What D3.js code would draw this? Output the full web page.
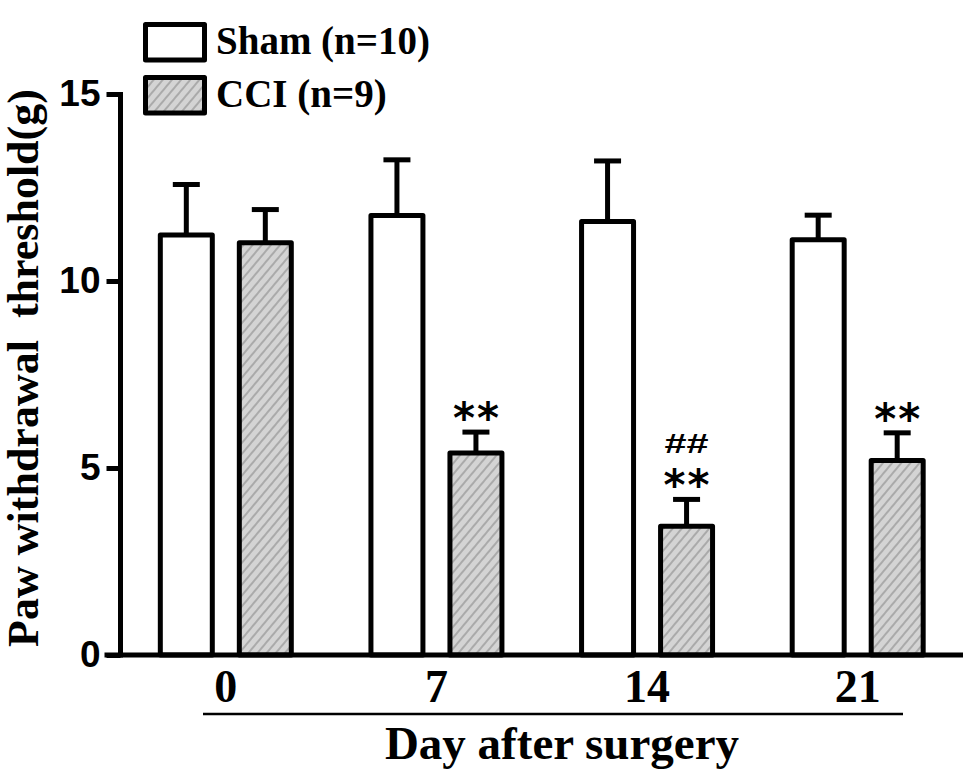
<!DOCTYPE html>
<html>
<head>
<meta charset="utf-8">
<script src="https://cdn.jsdelivr.net/npm/d3@7"></script>
<style>
  html, body { margin: 0; padding: 0; background: #fff; }
  svg { display: block; }
</style>
</head>
<body>
<svg id="chart" width="968" height="774"></svg>
<script>
// ---- data ----
const days = ["0", "7", "14", "21"];
const seriesNames = ["Sham", "CCI"];
const legendLabels = ["Sham (n=10)", "CCI (n=9)"];
const shamMean = [11.23, 11.75, 11.59, 11.10];
const shamErr  = [1.35, 1.49, 1.62, 0.66];
const cciMean  = [11.02, 5.40, 3.44, 5.20];
const cciErr   = [0.89, 0.56, 0.72, 0.74];
const cciStars = ["", "**", "**", "**"];
const cciHash  = ["", "", "##", ""];
const yTicks = [0, 5, 10, 15];
const xTitle = "Day after surgery";
const yTitle = "Paw withdrawal  threshold(g)";

// ---- layout ----
const svg = d3.select("#chart");
const axisX = 120.5, axisY = 655, rightEnd = 963, topY = 94;
const serif = "'Liberation Serif', 'Times New Roman', serif";
const sans = "'Liberation Sans', Arial, sans-serif";

const y = d3.scaleLinear().domain([0, 15]).range([axisY, topY]);
const x0 = d3.scaleBand().domain(days).range([axisX, rightEnd]).padding(0);
const x1 = d3.scaleBand().domain(seriesNames).range([0, x0.bandwidth()])
  .paddingInner(0.342).paddingOuter(0.504);

// hatch pattern
const defs = svg.append("defs");
const pat = defs.append("pattern")
  .attr("id", "hatch").attr("patternUnits", "userSpaceOnUse")
  .attr("width", 7).attr("height", 7)
  .attr("patternTransform", "rotate(40)");
pat.append("rect").attr("width", 7).attr("height", 7).attr("fill", "#d4d4d4");
pat.append("line").attr("x1", 1).attr("y1", 0).attr("x2", 1).attr("y2", 7)
  .attr("stroke", "#9c9c9c").attr("stroke-width", 1.5);

const data = [];
days.forEach((d, i) => {
  data.push({day: d, s: "Sham", mean: shamMean[i], err: shamErr[i], fill: "#fff", stars: "", hash: ""});
  data.push({day: d, s: "CCI", mean: cciMean[i], err: cciErr[i], fill: "url(#hatch)", stars: cciStars[i], hash: cciHash[i]});
});
const cx = d => x0(d.day) + x1(d.s) + x1.bandwidth() / 2;

const sw = 5;
const g = svg.append("g");

// error bars
g.selectAll("line.err").data(data).join("line")
  .attr("x1", cx).attr("x2", cx)
  .attr("y1", d => y(d.mean)).attr("y2", d => y(d.mean + d.err))
  .attr("stroke", "#000").attr("stroke-width", sw);
g.selectAll("line.cap").data(data).join("line")
  .attr("x1", d => cx(d) - 13.5).attr("x2", d => cx(d) + 13.5)
  .attr("y1", d => y(d.mean + d.err)).attr("y2", d => y(d.mean + d.err))
  .attr("stroke", "#000").attr("stroke-width", sw);

// bars
g.selectAll("rect.bar").data(data).join("rect")
  .attr("x", d => x0(d.day) + x1(d.s))
  .attr("width", x1.bandwidth())
  .attr("y", d => y(d.mean))
  .attr("height", d => axisY - y(d.mean))
  .attr("fill", d => d.fill)
  .attr("stroke", "#000").attr("stroke-width", sw)
  .attr("stroke-linejoin", "round");

// significance marks
g.selectAll("text.stars").data(data.filter(d => d.stars)).join("text")
  .attr("x", cx).attr("y", d => y(d.mean + d.err) + 1)
  .attr("text-anchor", "middle")
  .attr("font-family", "'DejaVu Sans', sans-serif").attr("font-weight", "bold").attr("font-size", 42)
  .attr("textLength", 46).attr("lengthAdjust", "spacing")
  .text(d => d.stars);
g.selectAll("text.hash").data(data.filter(d => d.hash)).join("text")
  .attr("x", cx).attr("y", d => y(d.mean + d.err) - 46)
  .attr("text-anchor", "middle")
  .attr("font-family", sans).attr("font-weight", "bold").attr("font-size", 27)
  .attr("textLength", 44).attr("lengthAdjust", "spacingAndGlyphs")
  .text(d => d.hash);

// y axis
const yAxis = d3.axisLeft(y).tickValues(yTicks).tickSize(14).tickSizeOuter(0).tickPadding(6);
const ya = svg.append("g").attr("transform", `translate(${axisX},0)`).call(yAxis);
ya.select(".domain").attr("stroke", "#000").attr("stroke-width", sw)
  .attr("d", `M0,${topY - 2}V${axisY + 2.5}`);
ya.selectAll(".tick line").attr("stroke", "#000").attr("stroke-width", sw);
ya.selectAll(".tick text").attr("font-family", sans).attr("font-weight", "bold")
  .attr("font-size", 37).attr("fill", "#000").attr("dy", "0.3em");

// x axis
const xAxis = d3.axisBottom(x0).tickSize(0).tickPadding(14);
const xa = svg.append("g").attr("transform", `translate(0,${axisY})`).call(xAxis);
xa.select(".domain").attr("stroke", "#000").attr("stroke-width", sw)
  .attr("d", `M${axisX - 16},0H${rightEnd}`);
xa.selectAll(".tick text").attr("font-family", serif).attr("font-weight", "bold")
  .attr("font-size", 46).attr("fill", "#000").attr("dy", "0.72em");

// underline and x title
svg.append("line").attr("x1", 203).attr("x2", 903).attr("y1", 714).attr("y2", 714)
  .attr("stroke", "#000").attr("stroke-width", 2.5);
svg.append("text").attr("x", 562).attr("y", 759)
  .attr("text-anchor", "middle").attr("font-family", serif).attr("font-weight", "bold")
  .attr("font-size", 47).text(xTitle);

// y title
svg.append("text").attr("transform", `translate(38,368) rotate(-90)`)
  .attr("text-anchor", "middle").attr("font-family", serif).attr("font-weight", "bold")
  .attr("font-size", 44).attr("xml:space", "preserve").style("white-space", "pre").text(yTitle);

// legend
const legY = [24.5, 77.5];
const leg = svg.append("g");
seriesNames.forEach((s, i) => {
  leg.append("rect").attr("x", 145.5).attr("y", legY[i]).attr("width", 59).attr("height", 35.5)
    .attr("fill", i === 0 ? "#fff" : "url(#hatch)").attr("stroke", "#000")
    .attr("stroke-width", sw).attr("stroke-linejoin", "round");
  leg.append("text").attr("x", 216).attr("y", legY[i] + 29)
    .attr("font-family", serif).attr("font-weight", "bold").attr("font-size", 39)
    .text(legendLabels[i]);
});
</script>
</body>
</html>
